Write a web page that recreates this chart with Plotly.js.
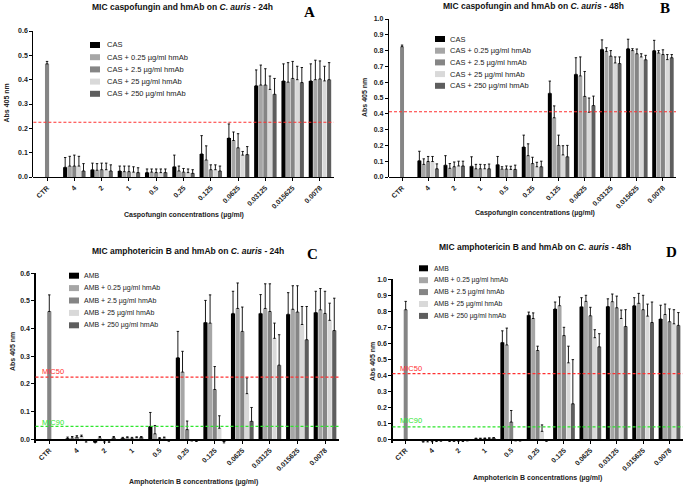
<!DOCTYPE html>
<html>
<head>
<meta charset="utf-8">
<script src="https://cdn.plot.ly/plotly-3.0.1.min.js"></script>
<style>html,body{margin:0;padding:0;background:#fff;}#chart{width:685px;height:488px;}</style>
</head>
<body>
<div id="chart"></div>
<script>
// ---------------- DATA ----------------
const categories = ['CTR','4','2','1','0.5','0.25','0.125','0.0625','0.03125','0.015625','0.0078'];
const casNames = ['CAS','CAS + 0.25 µg/ml hmAb','CAS + 2.5 µg/ml hmAb','CAS + 25 µg/ml hmAb','CAS + 250 µg/ml hmAb'];
const ambNames = ['AMB','AMB + 0.25 µg/ml hmAb','AMB + 2.5 µg/ml hmAb','AMB + 25 µg/ml hmAb','AMB + 250 µg/ml hmAb'];

// Panel A: caspofungin 24h
const casA_0    = [null,0.040,0.030,0.025,0.018,0.042,0.095,0.160,0.375,0.395,0.395];
const casA_0e   = [null,0.040,0.027,0.020,0.015,0.048,0.075,0.058,0.065,0.070,0.070];
const casA_025  = [null,0.045,0.028,0.022,0.020,0.025,0.070,0.150,0.378,0.390,0.400];
const casA_025e = [null,0.040,0.027,0.023,0.013,0.020,0.058,0.035,0.082,0.080,0.080];
const casA_25   = [0.465,0.045,0.030,0.022,0.018,0.020,0.030,0.120,0.378,0.405,0.403];
const casA_25e  = [0.010,0.045,0.027,0.023,0.015,0.015,0.020,0.058,0.067,0.070,0.074];
const casA_250  = [null,0.045,0.030,0.020,0.018,0.018,0.030,0.090,0.360,0.400,0.395];
const casA_250e = [null,0.040,0.027,0.022,0.015,0.015,0.020,0.015,0.055,0.055,0.060];
const casA_2500 = [null,0.025,0.025,0.018,0.018,0.015,0.025,0.092,0.340,0.388,0.400];
const casA_2500e= [null,0.030,0.025,0.020,0.015,0.015,0.020,0.033,0.065,0.062,0.070];

// Panel B: caspofungin 48h
const casB_0    = [null,0.103,0.075,0.068,0.078,0.190,0.530,0.650,0.808,0.812,0.800];
const casB_0e   = [null,0.060,0.060,0.060,0.052,0.075,0.077,0.105,0.060,0.060,0.065];
const casB_025  = [null,0.080,0.055,0.052,0.050,0.135,0.375,0.640,0.795,0.800,0.785];
const casB_025e = [null,0.035,0.030,0.028,0.015,0.075,0.075,0.120,0.023,0.012,0.015];
const casB_25   = [0.825,0.098,0.065,0.052,0.050,0.085,0.200,0.510,0.765,0.780,0.775];
const casB_25e  = [0.010,0.032,0.030,0.028,0.020,0.040,0.065,0.158,0.035,0.030,0.030];
const casB_250  = [null,0.098,0.070,0.052,0.048,0.065,0.140,0.410,0.722,0.760,0.743];
const casB_250e = [null,0.032,0.030,0.026,0.020,0.028,0.058,0.090,0.038,0.020,0.032];
const casB_2500 = [null,0.052,0.070,0.052,0.048,0.065,0.128,0.452,0.718,0.742,0.755];
const casB_2500e= [null,0.031,0.030,0.030,0.027,0.035,0.072,0.060,0.042,0.028,0.020];

// Panel C: amphotericin B 24h
const ambC_0    = [null,0.003,-0.012,0.004,0.046,0.295,0.422,0.455,0.455,0.452,0.458];
const ambC_0e   = [null,0.005,0.010,0.003,0.051,0.095,0.080,0.080,0.068,0.078,0.077];
const ambC_025  = [null,0.005,0.006,0.006,0.020,0.243,0.420,0.473,0.473,0.470,0.468];
const ambC_025e = [null,0.005,0.004,0.003,0.030,0.075,0.102,0.092,0.089,0.085,0.077];
const ambC_25   = [0.462,0.008,-0.005,0.004,0.003,0.035,0.180,0.390,0.462,0.460,0.455];
const ambC_25e  = [0.060,0.005,0.005,0.003,0.003,0.031,0.083,0.088,0.100,0.095,0.080];
const ambC_250  = [null,0.010,-0.006,0.006,0.005,-0.003,0.040,0.165,0.365,0.415,0.430];
const ambC_250e = [null,0.005,0.005,0.003,0.003,0.003,0.045,0.057,0.055,0.065,0.062];
const ambC_2500 = [null,-0.005,0.006,0.007,-0.004,-0.005,-0.008,0.065,0.268,0.360,0.393];
const ambC_2500e= [null,0.005,0.004,0.003,0.003,0.003,0.006,0.050,0.110,0.120,0.117];

// Panel D: amphotericin B 48h
const ambD_0    = [null,-0.012,-0.008,0.003,0.605,0.775,0.815,0.828,0.830,0.835,0.752];
const ambD_0e   = [null,0.008,0.006,0.004,0.073,0.020,0.043,0.057,0.048,0.050,0.086];
const ambD_025  = [null,-0.010,-0.008,0.004,0.590,0.755,0.835,0.862,0.860,0.850,0.780];
const ambD_025e = [null,0.008,0.005,0.003,0.105,0.035,0.055,0.038,0.048,0.062,0.065];
const ambD_25   = [0.810,-0.010,-0.006,0.005,0.108,0.555,0.648,0.772,0.822,0.810,0.735];
const ambD_25e  = [0.052,0.007,0.006,0.003,0.072,0.027,0.052,0.053,0.073,0.090,0.080];
const ambD_250  = [null,-0.008,-0.008,0.006,-0.005,0.050,0.478,0.635,0.755,0.770,0.722];
const ambD_250e = [null,0.006,0.006,0.003,0.005,0.040,0.104,0.050,0.053,0.075,0.088];
const ambD_2500 = [null,-0.006,-0.005,0.008,-0.005,-0.005,0.222,0.578,0.705,0.730,0.712];
const ambD_2500e= [null,0.006,0.005,0.003,0.006,0.008,0.276,0.082,0.105,0.128,0.080];

// Reference thresholds
const mic50 = {A:0.225, B:0.413, C:0.225, D:0.410};
const mic90 = {C:0.047, D:0.078};

const titles = {
  A:'MIC caspofungin and hmAb on <i>C. auris</i> - 24h',
  B:'MIC caspofungin and hmAb on <i>C. auris</i> - 48h',
  C:'MIC amphotericin B and hmAb on <i>C. auris</i> - 24h',
  D:'MIC amphotericin B and hmAb on <i>C. auris</i> - 48h'
};
const xTitles = {A:'Caspofungin concentrations (µg/ml)', B:'Caspofungin concentrations (µg/ml)',
                 C:'Amphotericin B concentrations (µg/ml)', D:'Amphotericin B concentrations (µg/ml)'};
const yTitle = 'Abs 405 nm';

// ---------------- STYLE / LAYOUT ----------------
const W = 685, H = 488;
const px = v => v / W;
const py = v => 1 - v / H;
const FONT = '"Liberation Sans", Arial, sans-serif';
const colors = ['#000000','#a6a6a6','#858585','#d9d9d9','#5e5e5e'];

const panels = {
  A:{names:casNames, series:[[casA_0,casA_0e],[casA_025,casA_025e],[casA_25,casA_25e],[casA_250,casA_250e],[casA_2500,casA_2500e]],
     x:[33.4,333.6], yTopPx:31, yZeroPx:177, range:[0,0.6],
     title:[183,7], letter:[309,12], xt:[184,215], yt:[5.5,103], leg:[90,105,45,12.2,10,7.5]},
  B:{names:casNames, series:[[casB_0,casB_0e],[casB_025,casB_025e],[casB_25,casB_25e],[casB_250,casB_250e],[casB_2500,casB_2500e]],
     x:[389,676], yTopPx:19, yZeroPx:177, range:[0,1.0],
     title:[533,6], letter:[665,8], xt:[535,213], yt:[365,98], leg:[435,448,39,11.7,10,7.5]},
  C:{names:ambNames, series:[[ambC_0,ambC_0e],[ambC_025,ambC_025e],[ambC_25,ambC_25e],[ambC_250,ambC_250e],[ambC_2500,ambC_2500e]],
     x:[35.5,338.8], yTopPx:273.3, yZeroPx:439.3, range:[-0.015,0.6],
     title:[188,251], letter:[312,254], xt:[193,482], yt:[12,352], leg:[69,82,275.7,12.4,10,7]},
  D:{names:ambNames, series:[[ambD_0,ambD_0e],[ambD_025,ambD_025e],[ambD_25,ambD_25e],[ambD_250,ambD_250e],[ambD_2500,ambD_2500e]],
     x:[392.5,682.7], yTopPx:279.3, yZeroPx:439.3, range:[-0.02,1.0],
     title:[535,247], letter:[671,252], xt:[537,478], yt:[372,362], leg:[419,432,268.3,11.9,9,6.8]}
};

const data = [];
const layout = {
  width: W, height: H,
  margin:{l:0,r:0,t:0,b:0},
  paper_bgcolor:'#fff', plot_bgcolor:'rgba(0,0,0,0)',
  showlegend:false,
  barmode:'group', bargap:0.16, bargroupgap:0.1,
  font:{family:FONT, color:'#000'},
  shapes:[], annotations:[]
};

['A','B','C','D'].forEach((k, i) => {
  const p = panels[k];
  const n = i + 1;
  const xa = 'x' + n, ya = 'y' + n;
  const xKey = 'xaxis' + n, yKey = 'yaxis' + n;
  const topMax = p.range[1];
  const scale = (p.yZeroPx - p.yTopPx) / topMax;
  const yBottomPx = p.yZeroPx - p.range[0] * scale;
  const yDom = [py(yBottomPx), py(p.yTopPx)];

  p.series.forEach((s, j) => {
    const vals = s[0], errs = s[1];
    const plus = vals.map((v, m) => v == null ? 0 : (v >= 0 ? errs[m] : 0));
    const minus = vals.map((v, m) => v == null ? 0 : (v < 0 ? errs[m] : 0));
    data.push({
      type:'bar', x:categories, y:vals, name:p.names[j],
      xaxis:xa, yaxis:ya,
      marker:{color:colors[j], line:{width:0}},
      error_y:{type:'data', symmetric:false, array:plus, arrayminus:minus,
               color:'#000', thickness:0.9, width:1.2},
      hoverinfo:'skip'
    });
  });

  layout[xKey] = {
    domain:[px(p.x[0]), px(p.x[1])], anchor:'free', position:py(p.yZeroPx),
    type:'category', range:[-0.5, 10.5], fixedrange:true,
    showline:true, linecolor:'#000', linewidth:1.2,
    ticks:'outside', ticklen:3, tickwidth:1, tickcolor:'#000',
    tickangle:-45, tickfont:{family:FONT, size:7, weight:'bold', color:'#222'},
    showgrid:false, zeroline:false
  };
  layout[yKey] = {
    domain:yDom, anchor:xa, range:p.range, fixedrange:true,
    showline:true, linecolor:'#000', linewidth:1.2,
    ticks:'outside', ticklen:3, tickwidth:1, tickcolor:'#000',
    tick0:0, dtick:0.1, tickformat:'.1f',
    tickfont:{family:FONT, size:7, weight:'bold', color:'#222'},
    showgrid:false, zeroline:false
  };

  // MIC50 line
  layout.shapes.push({type:'line', xref:xa + ' domain', yref:ya, x0:0, x1:1, y0:mic50[k], y1:mic50[k],
                      line:{color:'#ff3030', width:1.2, dash:'3px,2px'}});
  if (mic90[k] !== undefined) {
    layout.shapes.push({type:'line', xref:xa + ' domain', yref:ya, x0:0, x1:1, y0:mic90[k], y1:mic90[k],
                        line:{color:'#2ee62e', width:1.2, dash:'3px,2px'}});
    const lx = (k === 'C') ? 40 : 398;
    const l50 = (k === 'C') ? 371.5 : 368.5;
    const l90 = (k === 'C') ? 422.5 : 420.5;
    layout.annotations.push({xref:'paper', yref:'paper', x:px(lx), y:py(l50), xanchor:'left', yanchor:'middle',
      text:'MIC50', showarrow:false, font:{family:FONT, size:7.5, color:'#ff3030'}});
    layout.annotations.push({xref:'paper', yref:'paper', x:px(lx), y:py(l90), xanchor:'left', yanchor:'middle',
      text:'MIC90', showarrow:false, font:{family:FONT, size:7.5, color:'#2ee62e'}});
  }

  // Titles and labels
  layout.annotations.push({xref:'paper', yref:'paper', x:px(p.title[0]), y:py(p.title[1]), xanchor:'center', yanchor:'middle',
    text:'<b>' + titles[k] + '</b>', showarrow:false, font:{family:FONT, size:8.5, color:'#111'}});
  layout.annotations.push({xref:'paper', yref:'paper', x:px(p.letter[0]), y:py(p.letter[1]), xanchor:'center', yanchor:'middle',
    text:'<b>' + k + '</b>', showarrow:false, font:{family:'"Liberation Serif", "Times New Roman", serif', size:15, color:'#000'}});
  layout.annotations.push({xref:'paper', yref:'paper', x:px(p.xt[0]), y:py(p.xt[1]), xanchor:'center', yanchor:'middle',
    text:'<b>' + xTitles[k] + '</b>', showarrow:false, font:{family:FONT, size:7, color:'#222'}});
  layout.annotations.push({xref:'paper', yref:'paper', x:px(p.yt[0]), y:py(p.yt[1]), xanchor:'center', yanchor:'middle',
    text:'<b>' + yTitle + '</b>', textangle:-90, showarrow:false, font:{family:FONT, size:7, color:'#222'}});

  // Legend (manual, compact spacing)
  const [bx, tx, y0, step, bw, fs] = p.leg;
  p.names.forEach((nm, j) => {
    const yc = y0 + j * step;
    layout.shapes.push({type:'rect', xref:'paper', yref:'paper', x0:px(bx), x1:px(bx + bw),
      y0:py(yc + 3), y1:py(yc - 3), fillcolor:colors[j], line:{width:0}});
    layout.annotations.push({xref:'paper', yref:'paper', x:px(tx), y:py(yc), xanchor:'left', yanchor:'middle',
      text:nm, showarrow:false, font:{family:FONT, size:fs, color:'#222'}});
  });
});

Plotly.newPlot('chart', data, layout, {staticPlot:true, displayModeBar:false});
</script>
</body>
</html>
